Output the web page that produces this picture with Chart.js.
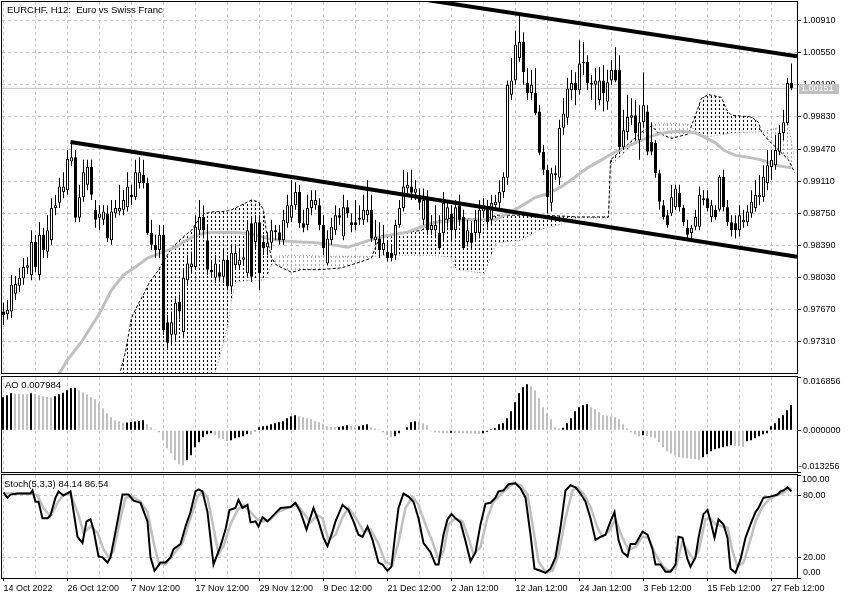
<!DOCTYPE html>
<html>
<head>
<meta charset="utf-8">
<title>EURCHF H12</title>
<script src="https://cdn.jsdelivr.net/npm/chart.js@4/dist/chart.umd.min.js"></script>
<style>
html,body{margin:0;padding:0;background:#fff;overflow:hidden;}
#wrap{position:relative;width:850px;height:600px;background:#fff;}
#wrap canvas{position:absolute;left:0;display:block;}
</style>
</head>
<body>
<div id="wrap">
<canvas id="cMain" width="850" height="375" style="top:0px"></canvas>
<canvas id="cAO" width="850" height="99" style="top:375px"></canvas>
<canvas id="cSto" width="850" height="126" style="top:474px"></canvas>
</div>
<script>
// ---------------- DATA ----------------
const titleText = 'EURCHF, H12:  Euro vs Swiss Franc';
const aoTitle = 'AO 0.007984';
const stochTitle = 'Stoch(5,3,3) 84.14 86.54';

const xLabels = ['14 Oct 2022','26 Oct 12:00','7 Nov 12:00','17 Nov 12:00','29 Nov 12:00','9 Dec 12:00','21 Dec 12:00','2 Jan 12:00','12 Jan 12:00','24 Jan 12:00','3 Feb 12:00','15 Feb 12:00','27 Feb 12:00'];
const xLabelIdx = [0,16,32,48,64,80,96,112,128,144,160,176,192];
const xGridIdx = [0,8,16,24,32,40,48,56,64,72,80,88,96,104,112,120,128,136,144,152,160,168,176,184,192];

const priceTicks = [0.97310,0.97670,0.98030,0.98390,0.98750,0.99110,0.99470,0.99830,1.00190,1.00550,1.00910];
const priceMin = 0.96962, priceMax = 1.01118;
const lastPrice = 1.00151;

// candles: [open, high, low, close]
const ohlc = [
[0.9765,0.9775,0.9750,0.9761],[0.9762,0.9778,0.9756,0.9767],[0.9765,0.9806,0.9758,0.9795],[0.9785,0.9805,0.9778,0.9796],[0.9794,0.9814,0.9787,0.9803],
[0.9802,0.9825,0.9795,0.9815],[0.9814,0.9826,0.9807,0.9817],[0.9806,0.9856,0.9800,0.9843],[0.9843,0.9851,0.9809,0.9815],[0.9806,0.9865,0.9800,0.9851],
[0.9851,0.9859,0.9825,0.9834],[0.9832,0.9873,0.9825,0.9856],[0.9845,0.9892,0.9840,0.9881],[0.9881,0.9896,0.9873,0.9884],[0.9887,0.9915,0.9881,0.9905],
[0.9899,0.9921,0.9892,0.9905],[0.9901,0.9946,0.9896,0.9936],[0.9933,0.9954,0.9928,0.9938],[0.9938,0.9946,0.9865,0.9870],[0.9870,0.9907,0.9865,0.9893],
[0.9893,0.9935,0.9888,0.9921],[0.9907,0.9935,0.9901,0.9927],[0.9927,0.9935,0.9890,0.9896],[0.9879,0.9890,0.9859,0.9868],[0.9870,0.9884,0.9856,0.9875],
[0.9868,0.9884,0.9862,0.9877],[0.9875,0.9884,0.9843,0.9847],[0.9845,0.9890,0.9840,0.9877],[0.9875,0.9890,0.9870,0.9881],[0.9877,0.9907,0.9873,0.9881],
[0.9879,0.9901,0.9873,0.9890],[0.9882,0.9921,0.9877,0.9905],[0.9896,0.9907,0.9884,0.9893],[0.9893,0.9935,0.9890,0.9921],[0.9909,0.9938,0.9903,0.9921],
[0.9918,0.9935,0.9903,0.9909],[0.9909,0.9915,0.9851,0.9853],[0.9853,0.9868,0.9834,0.9840],[0.9840,0.9851,0.9825,0.9834],[0.9834,0.9862,0.9825,0.9851],
[0.9851,0.9862,0.9739,0.9744],[0.9753,0.9761,0.9722,0.9730],[0.9739,0.9765,0.9728,0.9753],[0.9739,0.9780,0.9733,0.9775],[0.9776,0.9784,0.9756,0.9765],
[0.9742,0.9812,0.9735,0.9803],[0.9800,0.9828,0.9795,0.9819],[0.9815,0.9832,0.9809,0.9819],[0.9815,0.9873,0.9812,0.9860],[0.9856,0.9890,0.9851,0.9871],
[0.9871,0.9884,0.9847,0.9856],[0.9845,0.9862,0.9806,0.9812],[0.9812,0.9821,0.9803,0.9809],[0.9803,0.9828,0.9797,0.9819],[0.9809,0.9817,0.9798,0.9804],
[0.9804,0.9834,0.9797,0.9823],[0.9823,0.9828,0.9789,0.9793],[0.9793,0.9840,0.9787,0.9831],[0.9817,0.9840,0.9812,0.9831],[0.9817,0.9834,0.9812,0.9823],
[0.9823,0.9834,0.9817,0.9826],[0.9808,0.9865,0.9803,0.9856],[0.9864,0.9870,0.9798,0.9804],[0.9843,0.9873,0.9834,0.9865],[0.9865,0.9873,0.9789,0.9808],
[0.9843,0.9851,0.9828,0.9836],[0.9837,0.9854,0.9828,0.9842],[0.9842,0.9868,0.9834,0.9856],[0.9854,0.9862,0.9845,0.9856],[0.9854,0.9862,0.9840,0.9845],
[0.9845,0.9879,0.9840,0.9868],[0.9864,0.9896,0.9859,0.9884],[0.9870,0.9912,0.9865,0.9884],[0.9884,0.9910,0.9879,0.9899],[0.9899,0.9907,0.9859,0.9864],
[0.9864,0.9879,0.9854,0.9859],[0.9862,0.9896,0.9856,0.9881],[0.9881,0.9901,0.9873,0.9890],[0.9884,0.9901,0.9879,0.9890],[0.9884,0.9892,0.9856,0.9862],
[0.9862,0.9873,0.9828,0.9836],[0.9819,0.9856,0.9817,0.9847],[0.9845,0.9870,0.9840,0.9860],[0.9856,0.9884,0.9851,0.9873],[0.9873,0.9881,0.9862,0.9870],
[0.9849,0.9896,0.9845,0.9882],[0.9882,0.9890,0.9870,0.9875],[0.9865,0.9875,0.9854,0.9862],[0.9865,0.9890,0.9856,0.9862],[0.9870,0.9884,0.9862,0.9868],
[0.9868,0.9896,0.9862,0.9879],[0.9873,0.9912,0.9865,0.9879],[0.9879,0.9896,0.9843,0.9847],[0.9845,0.9868,0.9840,0.9849],[0.9847,0.9865,0.9825,0.9834],
[0.9834,0.9862,0.9828,0.9842],[0.9832,0.9845,0.9821,0.9825],[0.9831,0.9840,0.9821,0.9825],[0.9828,0.9868,0.9823,0.9862],[0.9862,0.9890,0.9859,0.9881],
[0.9881,0.9924,0.9877,0.9905],[0.9903,0.9921,0.9896,0.9907],[0.9905,0.9924,0.9890,0.9898],[0.9898,0.9912,0.9890,0.9903],[0.9893,0.9903,0.9879,0.9887],
[0.9868,0.9903,0.9862,0.9890],[0.9893,0.9901,0.9851,0.9856],[0.9856,0.9873,0.9851,0.9862],[0.9856,0.9884,0.9847,0.9862],[0.9853,0.9873,0.9834,0.9836],
[0.9853,0.9899,0.9845,0.9887],[0.9868,0.9890,0.9859,0.9882],[0.9875,0.9884,0.9845,0.9856],[0.9856,0.9890,0.9847,0.9882],[0.9884,0.9896,0.9862,0.9868],
[0.9871,0.9879,0.9834,0.9836],[0.9843,0.9868,0.9838,0.9856],[0.9853,0.9865,0.9836,0.9842],[0.9853,0.9879,0.9845,0.9868],[0.9853,0.9890,0.9847,0.9879],
[0.9877,0.9892,0.9870,0.9881],[0.9881,0.9890,0.9859,0.9865],[0.9868,0.9896,0.9862,0.9887],[0.9884,0.9896,0.9879,0.9888],[0.9887,0.9912,0.9881,0.9899],
[0.9899,0.9921,0.9892,0.9916],[0.9915,1.0024,0.9907,1.0019],[1.0008,1.0049,1.0002,1.0024],[1.0024,1.0080,1.0019,1.0064],[1.0049,1.0099,1.0045,1.0067],
[1.0067,1.0078,1.0019,1.0033],[1.0021,1.0038,1.0002,1.0010],[1.0010,1.0036,1.0002,1.0019],[1.0010,1.0038,0.9985,0.9987],[0.9989,0.9996,0.9940,0.9943],
[0.9944,0.9952,0.9918,0.9924],[0.9924,0.9929,0.9875,0.9893],[0.9887,0.9926,0.9877,0.9920],[0.9920,0.9929,0.9912,0.9918],[0.9915,0.9980,0.9907,0.9971],
[0.9971,1.0004,0.9963,0.9987],[0.9982,1.0027,0.9974,1.0015],[1.0013,1.0036,1.0002,1.0021],[1.0021,1.0033,0.9996,1.0013],[1.0013,1.0069,1.0008,1.0043],
[1.0043,1.0067,1.0030,1.0045],[1.0045,1.0052,1.0013,1.0021],[1.0021,1.0030,1.0002,1.0019],[1.0019,1.0038,0.9991,1.0024],[1.0002,1.0039,0.9996,1.0024],
[1.0024,1.0041,0.9989,1.0010],[1.0000,1.0036,0.9991,1.0022],[1.0024,1.0047,1.0019,1.0036],[1.0036,1.0061,1.0022,1.0024],[1.0036,1.0052,0.9946,0.9949],
[0.9949,0.9991,0.9946,0.9968],[0.9966,1.0008,0.9957,0.9983],[0.9982,1.0004,0.9974,0.9985],[0.9985,1.0002,0.9957,0.9965],[0.9957,0.9996,0.9935,0.9977],
[0.9977,1.0033,0.9971,0.9996],[0.9989,0.9996,0.9940,0.9944],[0.9955,0.9977,0.9940,0.9944],[0.9954,0.9957,0.9915,0.9920],[0.9920,0.9924,0.9879,0.9888],
[0.9884,0.9890,0.9868,0.9871],[0.9873,0.9879,0.9859,0.9862],[0.9875,0.9907,0.9872,0.9893],[0.9882,0.9907,0.9879,0.9903],[0.9898,0.9907,0.9877,0.9882],
[0.9881,0.9884,0.9861,0.9865],[0.9859,0.9868,0.9847,0.9851],[0.9853,0.9862,0.9847,0.9859],[0.9860,0.9879,0.9856,0.9871],[0.9860,0.9905,0.9856,0.9896],
[0.9890,0.9901,0.9884,0.9892],[0.9892,0.9901,0.9877,0.9881],[0.9871,0.9890,0.9865,0.9884],[0.9879,0.9884,0.9868,0.9871],[0.9879,0.9918,0.9877,0.9916],
[0.9916,0.9924,0.9877,0.9882],[0.9882,0.9890,0.9861,0.9865],[0.9865,0.9873,0.9849,0.9856],[0.9864,0.9873,0.9847,0.9856],[0.9856,0.9884,0.9849,0.9873],
[0.9865,0.9879,0.9859,0.9868],[0.9865,0.9884,0.9861,0.9877],[0.9875,0.9901,0.9870,0.9888],[0.9881,0.9912,0.9877,0.9896],[0.9893,0.9918,0.9884,0.9896],
[0.9893,0.9929,0.9888,0.9916],[0.9909,0.9946,0.9901,0.9929],[0.9927,0.9946,0.9912,0.9935],[0.9929,0.9963,0.9924,0.9946],[0.9944,0.9974,0.9940,0.9965],
[0.9965,0.9991,0.9957,0.9977],[0.9976,1.0027,0.9974,1.0021],[1.0021,1.0043,1.0013,1.00151]
];

// moving average (grey thick line): bar index, value
const maIdx = [12,14,16,19.5,24,27,30,33,36,40,43,45,47.5,50,54,58,63,66,70,74,78,82,86,89.5,93,97,101,104.5,108,116,123,126,129,133,136,139.5,143,146,149.5,153,156,159.5,163,166,169.5,173,175,178,180,183,186,189.5,193,197];
const maVal = [0.9688,0.9696,0.9711,0.9731,0.9763,0.9789,0.9806,0.9815,0.9825,0.9832,0.9837,0.9843,0.9849,0.9853,0.9854,0.9854,0.9851,0.9847,0.9844,0.9843,0.9842,0.9840,0.9837,0.9842,0.9847,0.9851,0.9854,0.9860,0.9865,0.9868,0.9868,0.9875,0.9882,0.9893,0.9897,0.9905,0.9916,0.9926,0.9935,0.9944,0.9950,0.9957,0.9963,0.9966,0.9967,0.9965,0.9961,0.9954,0.9946,0.9940,0.9938,0.9935,0.9929,0.9926];

// Ichimoku cloud spans
const cloudIdx = [27.5,29,30.5,32,33.5,35,36.5,38.5,40,42,44.5,47,48.75,50.25,52.75,54.5,56.25,57,58,62,63.75,65,66,67,68.25,72,74.5,79.5,84.5,89.5,92,93.25,94.5,99.5,104.5,107,112,113.25,120.25,121.5,123.25,129.5,133.75,139.5,143.75,151.25,151.75,154.5,159.5,162,163.75,167,171.25,172.75,174.5,176.25,179.5,180.75,182,187,188.75,189.5,191.25,193.75,196.25,197.75];
const spanA = [0.9666,0.9694,0.9720,0.9758,0.9772,0.9784,0.9798,0.9810,0.9821,0.9836,0.9847,0.9856,0.9868,0.9875,0.9877,0.9877,0.9878,0.9879,0.9881,0.9890,0.9888,0.9879,0.9845,0.9825,0.9817,0.9809,0.9812,0.9812,0.9814,0.9821,0.9825,0.9840,0.9850,0.9853,0.9856,0.9865,0.9870,0.9870,0.9868,0.9870,0.9873,0.9873,0.9873,0.9872,0.9871,0.9871,0.9935,0.9946,0.9966,0.9973,0.9965,0.9959,0.9964,0.9982,1.0004,1.0008,1.0005,0.9991,0.9985,0.9983,0.9977,0.9966,0.9957,0.9946,0.9935,0.9921];
const spanB = [0.9644,0.9644,0.9644,0.9644,0.9644,0.9644,0.9644,0.9644,0.9644,0.9644,0.9644,0.9644,0.9655,0.9672,0.9694,0.9722,0.9753,0.9778,0.9798,0.9800,0.9800,0.9800,0.9806,0.9817,0.9827,0.9828,0.9828,0.9827,0.9827,0.9827,0.9827,0.9827,0.9828,0.9828,0.9828,0.9828,0.9826,0.9812,0.9808,0.9823,0.9842,0.9845,0.9856,0.9863,0.9870,0.9870,0.9929,0.9940,0.9963,0.9973,0.9976,0.9976,0.9975,0.9968,0.9963,0.9961,0.9963,0.9964,0.9965,0.9966,0.9966,0.9967,0.9968,0.9971,0.9974,0.9935];

// trend channel lines: [bar index, price]
const trendLower = [[16.75,0.9955],[198.375,0.98265]];
const trendUpper = [[100,1.0118],[198.375,1.0051]];

// Awesome Oscillator
const aoTicks = [-0.013256, 0, 0.016856];
const aoVals = [
0.01046,0.01110,0.01173,0.01160,0.01151,0.01141,0.01135,0.01173,0.01148,0.01110,
0.01078,0.01052,0.01033,0.01078,0.01141,0.01189,0.01268,0.01331,0.01347,0.01268,
0.01205,0.01141,0.01046,0.00983,0.00856,0.00697,0.00539,0.00412,0.00317,0.00285,
0.00238,0.00247,0.00260,0.00273,0.00292,0.00317,0.00190,0.00095,0.00032,-0.00063,
-0.00317,-0.00571,-0.00729,-0.00951,-0.01078,-0.01110,-0.00951,-0.00793,-0.00539,-0.00380,
-0.00222,-0.00127,-0.00095,-0.00159,-0.00254,-0.00285,-0.00349,-0.00317,-0.00254,-0.00222,
-0.00190,-0.00127,-0.00143,-0.00032,0.00095,0.00127,0.00143,0.00190,0.00222,0.00254,
0.00285,0.00380,0.00444,0.00476,0.00444,0.00412,0.00380,0.00349,0.00285,0.00254,
0.00190,0.00127,0.00101,0.00089,0.00101,0.00127,0.00159,0.00133,0.00101,0.00127,
0.00159,0.00190,0.00095,0.00063,0.00032,-0.00063,-0.00159,-0.00222,-0.00190,-0.00095,
0.00016,0.00095,0.00254,0.00285,0.00273,0.00222,0.00159,-0.00032,-0.00063,-0.00082,
-0.00095,-0.00101,-0.00079,-0.00086,-0.00092,-0.00098,-0.00105,-0.00108,-0.00114,-0.00120,
-0.00095,-0.00048,0.00032,0.00063,0.00190,0.00222,0.00380,0.00602,0.00888,0.01173,
0.01363,0.01458,0.01395,0.01268,0.01014,0.00729,0.00539,0.00349,0.00095,0.00063,
0.00079,0.00222,0.00380,0.00602,0.00729,0.00793,0.00824,0.00729,0.00666,0.00571,
0.00476,0.00460,0.00444,0.00412,0.00349,0.00190,0.00063,-0.00063,-0.00127,-0.00190,
-0.00159,-0.00190,-0.00222,-0.00254,-0.00380,-0.00539,-0.00666,-0.00729,-0.00793,-0.00856,
-0.00872,-0.00888,-0.00903,-0.00919,-0.00951,-0.00856,-0.00761,-0.00666,-0.00602,-0.00571,
-0.00539,-0.00507,-0.00476,-0.00491,-0.00507,-0.00523,-0.00349,-0.00317,-0.00254,-0.00190,
-0.00127,-0.00095,0.00127,0.00222,0.00380,0.00476,0.00634,0.007984
];

// Stochastic (5,3,3)
const stochTicks = [0, 20, 80, 100];
const kIdx = [0,1,1.75,3.5,6.75,7.25,8,8.75,9.75,11,11.75,13,13.75,15,16.75,18.5,19.75,20.75,21.75,22.5,23.75,24.75,26,26.75,28.5,29.75,31.25,32.5,34.25,36,36.75,37.75,39.25,40.5,41.75,42.5,44.25,45.5,46.75,48,48.75,49.75,51,52.5,54.25,55.5,56.5,58,58.75,59.75,61,61.75,63,63.75,64.75,66,67.5,69.25,71.75,73,74.25,75.75,77.5,78.75,80,81,82.25,83,84.75,86.25,87.5,88.75,89.75,91,92.25,93.75,94.75,96,97,98,98.75,100,101.25,102.5,103.75,105,106.75,108,108.75,110,111,112,113,114.25,115.5,116.75,118,119.25,120.5,121.75,123,123.75,125,126.25,128,129.25,130.5,131.75,132.75,134.25,135.5,136.75,138,139.25,140.5,141.75,143,144.25,145.5,146.75,148,149.25,150.5,151.75,152.75,153.75,154.75,156,156.75,158,159.75,161,162.25,163,164.25,165.5,166.75,168,168.75,169.75,171,171.75,173,173.75,175,176,176.75,177.75,178.75,180,181,181.75,183,184.25,185.5,186.75,188,188.75,190,191.75,193.5,194.25,195,196,197];
const kVal = [83,78,81,82,82,85,74,74,58,58,61,78,84,80,84,40,34,55,57,47,21,20,15,20,55,81,81,75,73,55,20,7,15,15,20,28,33,50,64,84,86,84,64,13,31,47,66,68,76,68,71,54,55,50,59,55,61,68,69,73,64,47,68,55,39,31,45,55,71,66,55,42,40,50,37,15,13,7,11,45,68,82,79,74,58,34,25,13,13,42,57,62,58,54,36,16,25,52,72,73,78,84,85,91,92,87,78,42,9,7,5,9,20,49,85,90,88,82,74,58,37,40,42,55,64,37,25,21,33,33,45,42,28,13,13,6,6,13,40,39,18,11,20,39,62,66,55,39,57,52,39,9,5,18,39,52,64,68,78,79,81,84,85,88,84.14];
const dIdx = [0,2.5,6.75,8.5,10,11.75,13.5,15,16.75,18.75,20,21.75,23.5,25,26.25,27.5,29.25,30.5,32.25,34.25,36,37.5,38.75,40.5,42.5,44.75,46.75,48.5,49.75,51,52.5,53.75,55,56.75,58.5,60,61.75,63.5,65,66.75,68.5,71,73.5,75,76.75,78.5,79.75,81.25,83,84.75,86.25,88,90,91.75,93.75,95.5,97.25,98.75,100.5,102.25,103.75,105.5,107.25,108.75,110,111.25,113,114.75,116.25,117.5,119.25,121,122.5,124.25,126,127.5,129.25,131,132.25,133.75,135.5,137.25,138.75,140.5,142.25,143.5,145,146.75,148.5,149.75,151.25,153,154.75,156.25,158,159.75,161.25,163,164.75,166.25,168,169.75,171.25,172.5,173.75,175.5,176.75,178,179.75,181,182.25,183.5,185,186.25,188,189.75,191.25,193,194.75,196.25,197];
const dVal = [82,82,82,80,68,60,73,81,82,61,44,50,44,28,20,26,58,78,79,74,64,35,15,13,23,34,58,79,84,78,49,23,31,52,66,71,64,57,55,57,64,68,71,63,54,61,58,37,42,59,68,59,45,47,33,15,13,35,68,79,71,52,35,18,26,52,58,55,39,23,30,59,74,81,87,92,90,81,52,16,6,7,23,58,85,88,82,69,49,40,45,57,39,27,30,40,39,23,12,7,9,35,25,18,26,57,58,52,50,49,26,11,15,31,55,69,76,80,82,87,86.54];

// ---------------- STYLE / SETUP ----------------
const FONT = {family: 'Liberation Sans', size: 9};
const FONT_CSS = '9px "Liberation Sans"';
const TITLE_CSS = '9.5px "Liberation Sans"';
const GRID = '#c8c8c8';
Chart.defaults.font.family = FONT.family;
Chart.defaults.font.size = FONT.size;
Chart.defaults.color = '#000';

function hatch(color) {
  const c = document.createElement('canvas');
  c.width = 4; c.height = 4;
  const g = c.getContext('2d');
  g.fillStyle = color;
  g.fillRect(3, 0, 1, 2);
  return g.createPattern(c, 'repeat');
}
const hatchBlack = hatch('#000000');
const hatchGrey = hatch('#a8a8a8');

function noPad(s) { s.paddingTop = 0; s.paddingBottom = 0; s.paddingLeft = 0; s.paddingRight = 0; }

function xScale(min, labelled) {
  return {
    type: 'linear', min: min, max: min + 198.75, offset: false,
    afterBuildTicks: s => { s.ticks = xGridIdx.map(v => ({value: v})); },
    grid: {
      offset: false, color: GRID, lineWidth: 1, drawTicks: labelled, tickLength: 3, tickBorderDash: [],
      tickColor: c => (c && c.tick && xLabelIdx.includes(c.tick.value)) ? '#000' : 'rgba(0,0,0,0)'
    },
    border: {display: false, dash: [3, 3]},
    ticks: {
      display: labelled, autoSkip: false, maxRotation: 0, minRotation: 0, align: 'start', padding: 2,
      color: '#000', font: FONT,
      callback: v => { const k = xLabelIdx.indexOf(v); return k >= 0 ? xLabels[k] : ''; }
    },
    afterFit: s => { s.height = labelled ? 22 : 0; noPad(s); }
  };
}

function frame(ctx, a) {
  ctx.strokeStyle = '#000';
  ctx.lineWidth = 1;
  ctx.setLineDash([]);
  ctx.strokeRect(Math.round(a.left) - 0.5, Math.round(a.top) - 0.5, Math.round(a.right - a.left) + 1, Math.round(a.bottom - a.top) + 1);
}

const baseOpts = {
  responsive: false, animation: false, devicePixelRatio: 1, events: [],
  plugins: {legend: {display: false}, tooltip: {enabled: false}}
};

// ---------------- MAIN PANEL ----------------
const mainDecor = {
  id: 'mainDecor',
  afterDraw(chart) {
    const {ctx, chartArea: a, scales} = chart;
    ctx.save();
    frame(ctx, a);
    ctx.textBaseline = 'middle'; ctx.textAlign = 'left';
    ctx.font = TITLE_CSS; ctx.fillStyle = '#000';
    ctx.fillText(titleText, a.left + 5, a.top + 8);
    ctx.font = FONT_CSS;
    const y = Math.round(scales.y.getPixelForValue(lastPrice));
    ctx.fillStyle = '#c0c0c0';
    ctx.fillRect(a.right + 2, y - 4, 40, 10);
    ctx.fillStyle = '#ffffff';
    ctx.fillText(lastPrice.toFixed(5), a.right + 4, y + 1);
    ctx.restore();
  }
};

const bodyColor = c => { const k = ohlc[c.dataIndex]; return (k && k[3] >= k[0]) ? '#ffffff' : '#000000'; };

new Chart(document.getElementById('cMain'), {
  type: 'bar',
  data: {
    datasets: [
      {type: 'line', data: trendLower.map(p => ({x: p[0], y: p[1]})), borderColor: '#000', borderWidth: 4, pointRadius: 0, order: 0, clip: 0},
      {type: 'line', data: trendUpper.map(p => ({x: p[0], y: p[1]})), borderColor: '#000', borderWidth: 4, pointRadius: 0, order: 0, clip: 0},
      {type: 'bar', data: ohlc.map((k, i) => ({x: i, y: [k[0], k[3]]})), barThickness: 3, borderWidth: 1, borderColor: '#000',
       borderSkipped: false, backgroundColor: bodyColor, inflateAmount: 0, grouped: false, order: 1},
      {type: 'bar', data: ohlc.map((k, i) => ({x: i, y: [k[2], k[1]]})), barThickness: 1, borderWidth: 0,
       backgroundColor: '#000', inflateAmount: 0, grouped: false, order: 2},
      {type: 'line', data: maIdx.map((x, j) => ({x: x, y: maVal[j]})), borderColor: '#c0c0c0', borderWidth: 3, pointRadius: 0, order: 3, clip: 0},
      {type: 'line', data: [{x: -0.375, y: lastPrice}, {x: 198.375, y: lastPrice}], borderColor: '#c0c0c0', borderWidth: 1, pointRadius: 0, order: 4, clip: 0},
      {type: 'line', data: cloudIdx.map((x, j) => ({x: x, y: spanA[j]})), borderColor: '#000', borderWidth: 1, borderDash: [3, 2],
       pointRadius: 0, order: 5, clip: 0, fill: {target: 7, above: hatchBlack, below: hatchGrey}},
      {type: 'line', data: cloudIdx.map((x, j) => ({x: x, y: spanB[j]})), borderColor: '#9a9a9a', borderWidth: 1, borderDash: [1, 2],
       pointRadius: 0, order: 6, clip: 0, fill: false}
    ]
  },
  options: Object.assign({}, baseOpts, {
    layout: {autoPadding: false, padding: {left: 2, right: 0, top: 2, bottom: 2}},
    scales: {
      x: xScale(-0.375, false),
      y: {
        type: 'linear', position: 'right', min: priceMin, max: priceMax, beginAtZero: false,
        afterBuildTicks: s => { s.ticks = priceTicks.map(v => ({value: v})); },
        grid: {color: GRID, drawTicks: true, tickLength: 4, tickColor: '#000', tickBorderDash: []},
        border: {display: false, dash: [3, 3]},
        ticks: {color: '#000', font: FONT, padding: 2, callback: v => Number(v).toFixed(5)},
        afterFit: s => { s.width = 53; noPad(s); }
      }
    }
  }),
  plugins: [mainDecor]
});

// ---------------- AO PANEL ----------------
const aoDecor = {
  id: 'aoDecor',
  afterDraw(chart) {
    const {ctx, chartArea: a, scales} = chart;
    ctx.save();
    frame(ctx, a);
    ctx.textBaseline = 'middle'; ctx.textAlign = 'left'; ctx.fillStyle = '#000';
    ctx.font = TITLE_CSS;
    ctx.fillText(aoTitle, a.left + 3, a.top + 8);
    ctx.font = FONT_CSS;
    ctx.fillText(aoTicks[2].toFixed(6), a.right + 6, a.top + 5);
    ctx.fillText(aoTicks[1].toFixed(6), a.right + 6, scales.y.getPixelForValue(aoTicks[1]));
    ctx.fillText(aoTicks[0].toFixed(6), a.right + 2, a.bottom - 5);
    ctx.restore();
  }
};

new Chart(document.getElementById('cAO'), {
  type: 'bar',
  data: {
    datasets: [{
      data: aoVals.map((v, i) => ({x: i, y: v})), barThickness: 2, borderWidth: 0, inflateAmount: 0,
      backgroundColor: c => { const i = c.dataIndex; return (i === 0 || aoVals[i] > aoVals[i - 1]) ? '#000000' : '#c0c0c0'; }
    }]
  },
  options: Object.assign({}, baseOpts, {
    layout: {autoPadding: false, padding: {left: 2, right: 0, top: 2, bottom: 2}},
    scales: {
      x: xScale(-0.25, false),
      y: {
        type: 'linear', position: 'right', min: aoTicks[0], max: aoTicks[2], beginAtZero: false,
        afterBuildTicks: s => { s.ticks = aoTicks.map(v => ({value: v})); },
        grid: {color: 'rgba(0,0,0,0)', drawTicks: true, tickLength: 4, tickColor: '#000', tickBorderDash: []},
        border: {display: false},
        ticks: {display: false},
        afterFit: s => { s.width = 53; noPad(s); }
      }
    }
  }),
  plugins: [aoDecor]
});

// ---------------- STOCHASTIC PANEL ----------------
const stoDecor = {
  id: 'stoDecor',
  afterDraw(chart) {
    const {ctx, chartArea: a, scales} = chart;
    ctx.save();
    frame(ctx, a);
    ctx.textBaseline = 'middle'; ctx.textAlign = 'left'; ctx.fillStyle = '#000';
    ctx.font = TITLE_CSS;
    ctx.fillText(stochTitle, a.left + 2, a.top + 9);
    ctx.font = FONT_CSS;
    ctx.fillText(stochTicks[3].toFixed(2), a.right + 5, a.top + 5);
    ctx.fillText(stochTicks[2].toFixed(2), a.right + 6, scales.y.getPixelForValue(stochTicks[2]));
    ctx.fillText(stochTicks[1].toFixed(2), a.right + 6, scales.y.getPixelForValue(stochTicks[1]));
    ctx.fillText(stochTicks[0].toFixed(2), a.right + 6, a.bottom - 5);
    ctx.restore();
  }
};

new Chart(document.getElementById('cSto'), {
  type: 'line',
  data: {
    datasets: [
      {data: kIdx.map((x, j) => ({x: x, y: kVal[j]})), borderColor: '#000', borderWidth: 2, pointRadius: 0, order: 0, clip: 0},
      {data: dIdx.map((x, j) => ({x: x, y: dVal[j]})), borderColor: '#c0c0c0', borderWidth: 2.5, pointRadius: 0, order: 1, clip: 0}
    ]
  },
  options: Object.assign({}, baseOpts, {
    layout: {autoPadding: false, padding: {left: 2, right: 0, top: 1, bottom: 0}},
    scales: {
      x: xScale(-0.375, true),
      y: {
        type: 'linear', position: 'right', min: 0, max: 100,
        afterBuildTicks: s => { s.ticks = stochTicks.map(v => ({value: v})); },
        grid: {
          color: c => (c && c.tick && (c.tick.value === 20 || c.tick.value === 80)) ? GRID : 'rgba(0,0,0,0)',
          drawTicks: true, tickLength: 4, tickColor: '#000', tickBorderDash: []
        },
        border: {display: false, dash: [3, 3]},
        ticks: {display: false},
        afterFit: s => { s.width = 53; noPad(s); }
      }
    }
  }),
  plugins: [stoDecor]
});
</script>
</body>
</html>
